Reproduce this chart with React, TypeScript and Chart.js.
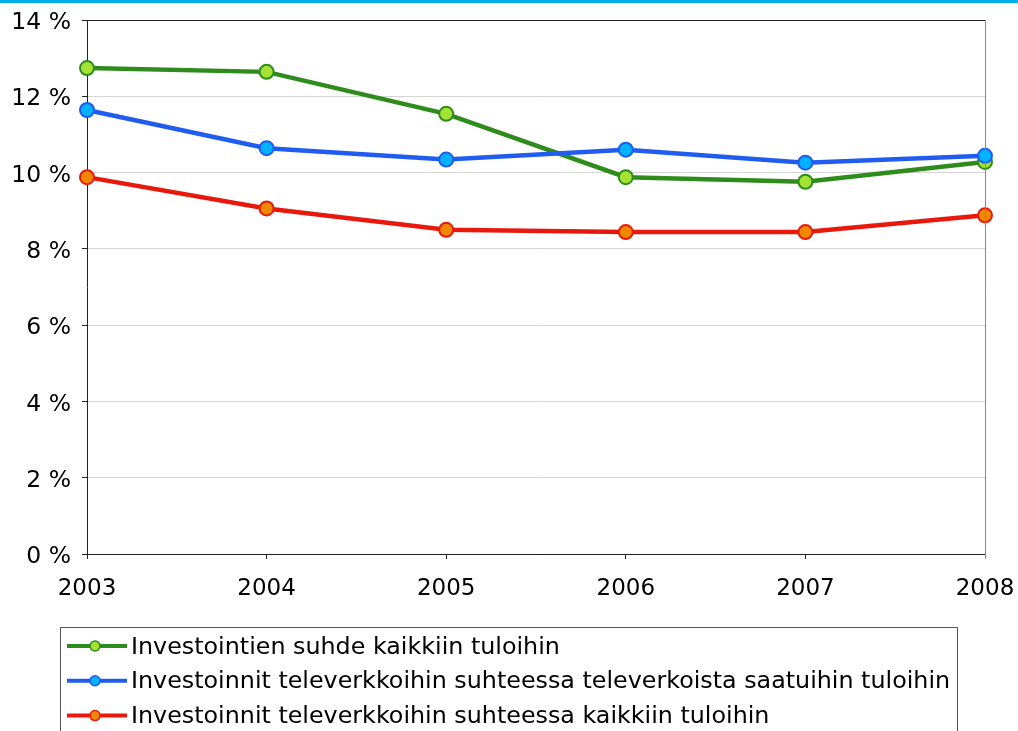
import React, { useEffect, useRef } from "react";
import { Chart, registerables } from "chart.js";

Chart.register(...registerables);

const years = ["2003", "2004", "2005", "2006", "2007", "2008"];
const seriesLabels = [
  "Investointien suhde kaikkiin tuloihin",
  "Investoinnit televerkkoihin suhteessa televerkoista saatuihin tuloihin",
  "Investoinnit televerkkoihin suhteessa kaikkiin tuloihin",
];
const totalRatio = [12.74, 12.64, 11.54, 9.88, 9.76, 10.28];
const networkOwnRatio = [11.64, 10.64, 10.34, 10.6, 10.26, 10.44];
const networkTotalRatio = [9.88, 9.06, 8.5, 8.44, 8.44, 8.88];
const yTicks = [0, 2, 4, 6, 8, 10, 12, 14];

const FONT = "'DejaVu Sans', Verdana, sans-serif";

const legendPlugin = {
  id: "boxLegend",
  afterDraw(chart: any) {
    const ctx = chart.ctx as CanvasRenderingContext2D;
    ctx.save();
    // top cyan rule
    ctx.fillStyle = "#00AEEF";
    ctx.fillRect(0, 0, chart.width, 3);
    // legend box
    ctx.strokeStyle = "#555555";
    ctx.lineWidth = 1;
    ctx.strokeRect(60.5, 627.5, 897, 130);
    ctx.font = `23.8px ${FONT}`;
    ctx.textBaseline = "middle";
    ctx.textAlign = "left";
    chart.data.datasets.forEach((ds: any, i: number) => {
      const y = 646 + i * 34.8;
      ctx.strokeStyle = ds.borderColor;
      ctx.lineWidth = 4;
      ctx.beginPath();
      ctx.moveTo(67, y);
      ctx.lineTo(127, y);
      ctx.stroke();
      ctx.beginPath();
      ctx.arc(95, y, 5, 0, Math.PI * 2);
      ctx.fillStyle = ds.pointBackgroundColor;
      ctx.fill();
      ctx.lineWidth = 1.5;
      ctx.strokeStyle = ds.pointBorderColor;
      ctx.stroke();
      ctx.fillStyle = "#000000";
      ctx.fillText(ds.label, 131, y + 1.5);
    });
    ctx.restore();
  },
};

const frameLinePlugin = {
  id: "frameLines",
  afterDatasetsDraw(chart: any) {
    const { ctx, chartArea } = chart;
    ctx.save();
    ctx.lineWidth = 1;
    ctx.strokeStyle = "#888888";
    ctx.beginPath();
    ctx.moveTo(Math.round(chartArea.right) + 0.5, chartArea.top);
    ctx.lineTo(Math.round(chartArea.right) + 0.5, chartArea.bottom + 5);
    ctx.stroke();
    ctx.restore();
  },
  beforeDatasetsDraw(chart: any) {
    const { ctx, chartArea } = chart;
    ctx.save();
    ctx.lineWidth = 1;
    ctx.strokeStyle = "#222222";
    ctx.beginPath();
    ctx.moveTo(chartArea.left, Math.round(chartArea.top) + 0.5);
    ctx.lineTo(chartArea.right, Math.round(chartArea.top) + 0.5);
    ctx.stroke();
    ctx.restore();
  },
};

export default function App() {
  const ref = useRef<HTMLCanvasElement | null>(null);
  useEffect(() => {
    if (!ref.current) return;
    const mk = (label: string, data: number[], line: string, fill: string, order: number) => ({
      label,
      data,
      order,
      borderColor: line,
      backgroundColor: fill,
      pointBackgroundColor: fill,
      pointBorderColor: line,
      pointRadius: 7,
      pointBorderWidth: 2,
      borderWidth: 4.5,
      tension: 0,
      clip: false as any,
    });
    const zeroPad = (s: any) => {
      s.paddingLeft = 0;
      s.paddingRight = 0;
      s.paddingTop = 0;
      s.paddingBottom = 0;
    };
    const chart = new Chart(ref.current, {
      type: "line",
      data: {
        labels: years,
        datasets: [
          mk(seriesLabels[0], totalRatio, "#2E8C1C", "#A4E233", 3),
          mk(seriesLabels[1], networkOwnRatio, "#1F5CEF", "#00B2FF", 1),
          mk(seriesLabels[2], networkTotalRatio, "#E8180C", "#F08800", 2),
        ],
      },
      options: {
        animation: false,
        responsive: false,
        devicePixelRatio: 1,
        layout: { padding: { left: 0, right: 33, top: 20, bottom: 0 } },
        plugins: { legend: { display: false }, tooltip: { enabled: false } },
        scales: {
          x: {
            type: "category",
            offset: false,
            grid: {
              display: true,
              drawOnChartArea: false,
              drawTicks: true,
              tickLength: 5,
              color: "#222222",
            },
            border: { display: true, color: "#222222", width: 1 },
            ticks: {
              color: "#000000",
              font: { family: FONT, size: 23 },
              padding: 16,
              maxRotation: 0,
              autoSkip: false,
            },
            afterFit: (s: any) => {
              s.height = 177;
              zeroPad(s);
            },
          },
          y: {
            min: 0,
            max: 14,
            afterBuildTicks: (s: any) => {
              s.ticks = yTicks.map((v) => ({ value: v }));
            },
            grid: {
              color: (c: any) => (c.tick && c.tick.value === 0 ? "#222222" : "#D4D4D4"),
              tickColor: "#222222",
              tickLength: 5,
              lineWidth: 1,
            },
            border: { display: true, color: "#222222", width: 1 },
            ticks: {
              color: "#000000",
              font: { family: FONT, size: 23.5 },
              padding: 11,
              labelOffset: 3,
              callback: (v: any) => `${v} %`,
            },
            afterFit: (s: any) => {
              s.width = 87;
              zeroPad(s);
            },
          },
        },
      },
      plugins: [frameLinePlugin, legendPlugin],
    });
    return () => chart.destroy();
  }, []);
  return (
    <div style={{ position: "fixed", left: 0, top: 0, width: 1018, height: 731, background: "#fff" }}>
      <canvas ref={ref} width={1018} height={731} style={{ width: 1018, height: 731, display: "block" }} />
    </div>
  );
}
